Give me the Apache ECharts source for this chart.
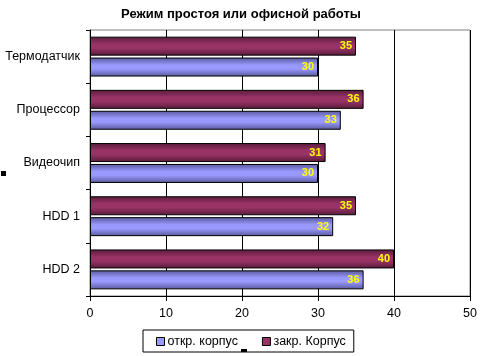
<!DOCTYPE html>
<html>
<head>
<meta charset="utf-8">
<script src="https://cdn.jsdelivr.net/npm/echarts@6/dist/echarts.min.js"></script>
<style>
html, body { margin: 0; padding: 0; background: #fff; }
#chart { width: 482px; height: 356px; }
</style>
</head>
<body>
<div id="chart"></div>
<script>
var categories = ['Термодатчик', 'Процессор', 'Видеочип', 'HDD 1', 'HDD 2'];
var openCase = [30, 33, 30, 32, 36];
var closedCase = [35, 36, 31, 35, 40];
var xTicks = [0, 10, 20, 30, 40, 50];

var fontFamily = '"Liberation Sans", Arial, sans-serif';

function barGradient(edge, mid) {
    return new echarts.graphic.LinearGradient(0, 0, 0, 1, [
        { offset: 0, color: edge },
        { offset: 0.4, color: mid },
        { offset: 0.6, color: mid },
        { offset: 1, color: edge }
    ]);
}

var labelStyle = {
    show: true,
    position: 'insideRight',
    distance: 4,
    color: '#ffff00',
    fontWeight: 'bold',
    fontSize: 11,
    fontFamily: fontFamily
};

var chart = echarts.init(document.getElementById('chart'));
chart.setOption({
    animation: false,
    backgroundColor: '#fff',
    title: {
        text: 'Режим простоя или офисной работы',
        left: 'center',
        top: 3,
        textStyle: { fontSize: 13, fontWeight: 'bold', color: '#000', fontFamily: fontFamily }
    },
    grid: {
        left: 90, right: 12, top: 30, bottom: 60,
        show: true, borderColor: '#808080', borderWidth: 1
    },
    xAxis: {
        type: 'value',
        min: xTicks[0],
        max: xTicks[xTicks.length - 1],
        interval: 10,
        axisLine: { show: true, lineStyle: { color: '#000' } },
        axisTick: { show: true, length: 5, lineStyle: { color: '#000' } },
        axisLabel: { color: '#000', fontSize: 12.5, fontFamily: fontFamily, margin: 11 },
        splitLine: { show: true, lineStyle: { color: '#000' } }
    },
    yAxis: {
        type: 'category',
        data: categories,
        inverse: true,
        axisLine: { show: true, lineStyle: { color: '#000' } },
        axisTick: { show: true, length: 4, lineStyle: { color: '#000' } },
        axisLabel: { color: '#000', fontSize: 12.5, fontFamily: fontFamily, margin: 10 }
    },
    legend: {
        left: 143,
        bottom: 4,
        itemWidth: 8,
        itemHeight: 8,
        itemGap: 24,
        padding: [5, 8, 4, 13],
        borderColor: '#000',
        borderWidth: 1,
        borderRadius: 0,
        icon: 'rect',
        textStyle: { color: '#000', fontSize: 12.5, fontFamily: fontFamily, padding: [0, 0, 0, -2] },
        data: [
            { name: 'откр. корпус', itemStyle: { color: '#9999ff', borderColor: '#000', borderWidth: 1 } },
            { name: 'закр. Корпус', itemStyle: { color: '#993366', borderColor: '#000', borderWidth: 1 } }
        ]
    },
    series: [
        {
            name: 'закр. Корпус',
            type: 'bar',
            data: closedCase,
            barWidth: 19,
            barGap: '10%',
            itemStyle: { color: barGradient('#581c3a', '#993366'), borderColor: '#000', borderWidth: 1 },
            label: labelStyle
        },
        {
            name: 'откр. корпус',
            type: 'bar',
            data: openCase,
            barWidth: 19,
            barGap: '10%',
            itemStyle: { color: barGradient('#58589a', '#9999ff'), borderColor: '#000', borderWidth: 1 },
            label: labelStyle
        }
    ],
    graphic: [
        { type: 'rect', left: 1, top: 171, shape: { width: 5, height: 5 }, style: { fill: '#000' } },
        { type: 'rect', left: 241, top: 349, shape: { width: 6, height: 3 }, style: { fill: '#000' } }
    ]
});
</script>
</body>
</html>
